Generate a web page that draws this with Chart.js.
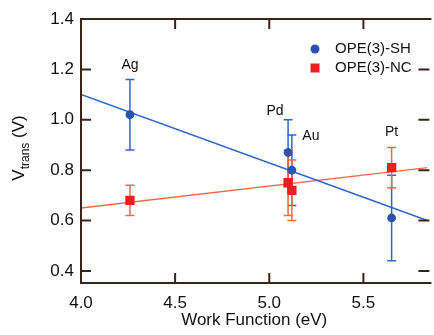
<!DOCTYPE html>
<html><head><meta charset="utf-8">
<script src="https://cdn.jsdelivr.net/npm/chart.js@4/dist/chart.umd.min.js"></script>
<style>html,body{margin:0;padding:0;background:#fff}#wrap{width:434px;height:335px}</style>
</head><body><div id="wrap"><canvas id="c"></canvas></div>
<script>
// values
const metals = ['Ag', 'Pd', 'Au', 'Pt'];
const workFn = [4.26, 5.10, 5.12, 5.65];
const shVals = [1.02, 0.87, 0.80, 0.61];
const shErr = [0.14, 0.13, 0.14, 0.17];
const ncVals = [0.68, 0.75, 0.72, 0.81];
const ncErr = [0.06, 0.13, 0.12, 0.08];
const fitX = [4.0, 5.84];
const shFit = [1.10, 0.60];
const ncFit = [0.65, 0.81];
const xTicks = [4.0, 4.5, 5.0, 5.5];
const yTicks = [0.4, 0.6, 0.8, 1.0, 1.2, 1.4];

const BLUE = '#2b52ad', BLUE_LN = '#2f66cc';
const RED = '#ec1e1e', RED_LN = '#f2684a';
const AXIS = '#3a2418';
const FONT = '"Liberation Sans", Arial, sans-serif';

const pts = (xs, ys) => xs.map((x, i) => ({ x: x, y: ys[i] }));

const extras = {
  id: 'extras',
  beforeDatasetsDraw(chart) {
    const ctx = chart.ctx, xs = chart.scales.x, ys = chart.scales.y;
    const bars = [[shVals, shErr, BLUE_LN], [ncVals, ncErr, RED_LN]];
    ctx.save();
    ctx.lineWidth = 1.5;
    bars.forEach(([vals, errs, col]) => {
      ctx.strokeStyle = col;
      vals.forEach((v, i) => {
        const px = xs.getPixelForValue(workFn[i]);
        const lo = ys.getPixelForValue(v - errs[i]);
        const hi = ys.getPixelForValue(v + errs[i]);
        ctx.beginPath();
        ctx.moveTo(px, lo); ctx.lineTo(px, hi);
        ctx.moveTo(px - 4.5, lo); ctx.lineTo(px + 4.5, lo);
        ctx.moveTo(px - 4.5, hi); ctx.lineTo(px + 4.5, hi);
        ctx.stroke();
      });
    });
    ctx.restore();
  },
  afterDraw(chart) {
    const ctx = chart.ctx, a = chart.chartArea, xs = chart.scales.x, ys = chart.scales.y;
    ctx.save();
    // frame + inward ticks
    ctx.strokeStyle = AXIS;
    ctx.lineWidth = 2;
    ctx.beginPath();
    ctx.moveTo(a.right + 4, a.top); ctx.lineTo(a.left, a.top);
    ctx.lineTo(a.left, a.bottom); ctx.lineTo(a.right + 4, a.bottom);
    xTicks.forEach(t => {
      const p = xs.getPixelForValue(t);
      if (p <= a.left + 1) return;
      ctx.moveTo(p, a.bottom); ctx.lineTo(p, a.bottom - 10);
      ctx.moveTo(p, a.top); ctx.lineTo(p, a.top + 10);
    });
    yTicks.forEach(t => {
      const p = ys.getPixelForValue(t);
      ctx.moveTo(a.left, p); ctx.lineTo(a.left + 10, p);
      ctx.moveTo(a.right + 2, p); ctx.lineTo(a.right - 9, p);
    });
    ctx.stroke();

    // metal labels
    const offs = [[0, -50], [-13, -41], [19, -34], [0, -86]];
    ctx.fillStyle = '#111';
    ctx.font = '14px ' + FONT;
    ctx.textAlign = 'center';
    ctx.textBaseline = 'middle';
    metals.forEach((m, i) => {
      const px = xs.getPixelForValue(workFn[i]);
      const py = ys.getPixelForValue(shVals[i]);
      ctx.fillText(m, px + offs[i][0], py + offs[i][1]);
    });

    // legend
    ctx.textAlign = 'left';
    ctx.font = '15px ' + FONT;
    const lx = a.left + 234, ly = a.top + 30;
    ctx.fillStyle = BLUE;
    ctx.beginPath(); ctx.arc(lx, ly, 4.5, 0, Math.PI * 2); ctx.fill();
    ctx.fillStyle = RED;
    ctx.fillRect(lx - 4.5, ly + 19 - 4.5, 9, 9);
    ctx.fillStyle = '#111';
    ctx.fillText('OPE(3)-SH', lx + 20, ly);
    ctx.fillText('OPE(3)-NC', lx + 20, ly + 19);

    // y title with subscript
    ctx.translate(24, (a.top + a.bottom) / 2 - 3);
    ctx.rotate(-Math.PI / 2);
    ctx.textBaseline = 'alphabetic';
    ctx.font = '17px ' + FONT;
    const w1 = ctx.measureText('V').width;
    ctx.font = '12px ' + FONT;
    const w2 = ctx.measureText('trans').width;
    ctx.font = '17px ' + FONT;
    const w3 = ctx.measureText(' (V)').width;
    let x0 = -(w1 + w2 + w3) / 2;
    ctx.fillText('V', x0, 0);
    ctx.font = '12px ' + FONT;
    ctx.fillText('trans', x0 + w1, 5);
    ctx.font = '17px ' + FONT;
    ctx.fillText(' (V)', x0 + w1 + w2, 0);
    ctx.restore();
  }
};

new Chart(document.getElementById('c'), {
  type: 'scatter',
  data: {
    datasets: [
      { label: 'OPE(3)-SH', data: pts(workFn, shVals), pointStyle: 'circle', pointRadius: 4.4,
        backgroundColor: BLUE, borderColor: BLUE, borderWidth: 0 },
      { label: 'OPE(3)-NC', data: pts(workFn, ncVals), pointStyle: 'rect', pointRadius: 6.6,
        backgroundColor: RED, borderColor: RED, borderWidth: 0 },
      { label: 'SH fit', type: 'line', data: pts(fitX, shFit), showLine: true, pointRadius: 0,
        borderColor: BLUE_LN, borderWidth: 1.5, fill: false },
      { label: 'NC fit', type: 'line', data: pts(fitX, ncFit), showLine: true, pointRadius: 0,
        borderColor: RED_LN, borderWidth: 1.5, fill: false }
    ]
  },
  options: {
    responsive: true,
    maintainAspectRatio: false,
    animation: false,
    layout: { padding: { top: 19, right: 0, left: 0, bottom: 0 } },
    plugins: { legend: { display: false }, tooltip: { enabled: false } },
    scales: {
      x: {
        type: 'linear', min: 4.0, max: 5.84,
        grid: { display: false, drawTicks: false },
        border: { display: false },
        afterBuildTicks: s => { s.ticks = xTicks.map(v => ({ value: v })); },
        afterFit: s => { s.height = 52; },
        ticks: { color: '#111', font: { family: FONT, size: 17 }, padding: 10,
          maxRotation: 0, callback: v => Number(v).toFixed(1) },
        title: { display: true, text: 'Work Function (eV)', color: '#111',
          font: { family: FONT, size: 17 }, padding: 4 }
      },
      y: {
        type: 'linear', min: 0.352, max: 1.4,
        grid: { display: false, drawTicks: false },
        border: { display: false },
        afterBuildTicks: s => { s.ticks = yTicks.map(v => ({ value: v })); },
        afterFit: s => { s.width = 81; },
        ticks: { color: '#111', font: { family: FONT, size: 17 }, padding: 7,
          callback: v => Number(v).toFixed(1) }
      }
    }
  },
  plugins: [extras]
});
</script>
</body></html>
